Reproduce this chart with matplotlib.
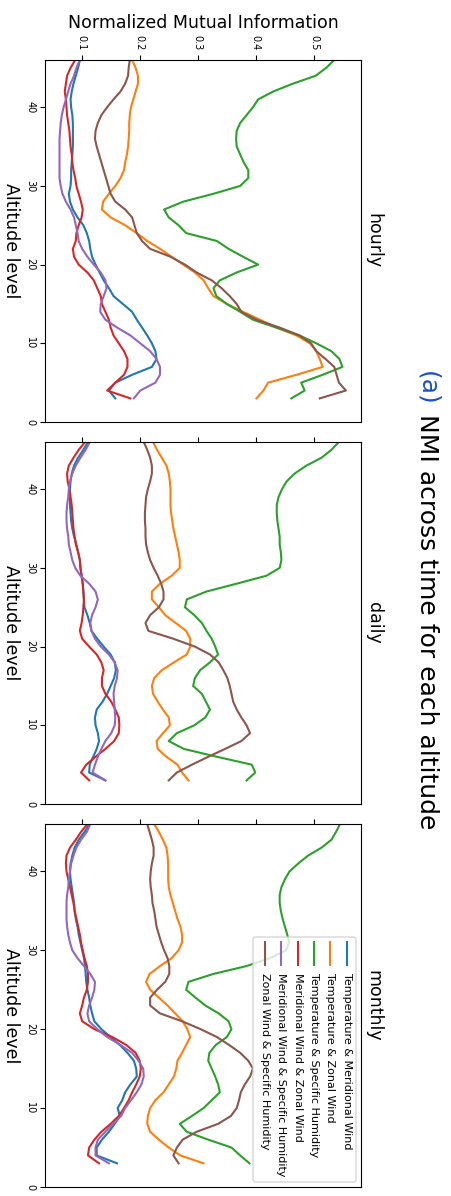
import matplotlib
matplotlib.use("Agg")
import matplotlib.pyplot as plt
from matplotlib.patches import FancyBboxPatch

# ---------------------------------------------------------------- data
altitude_levels = list(range(3, 47))

pair_labels = [
    "Temperature & Meridional Wind",
    "Temperature & Zonal Wind",
    "Temperature & Specific Humidity",
    "Meridional Wind & Zonal Wind",
    "Meridional Wind & Specific Humidity",
    "Zonal Wind & Specific Humidity",
]
pair_colors = ["#1f77b4", "#ff7f0e", "#2ca02c", "#d62728", "#9467bd", "#8c564b"]
panel_names = ["hourly", "daily", "monthly"]
nmi_ticks = [0.1, 0.2, 0.3, 0.4, 0.5]
altitude_ticks = [0, 10, 20, 30, 40]

# NMI per altitude level (levels 3 .. 46)
hourly_t_v = [0.158, 0.147, 0.158, 0.187, 0.221, 0.229, 0.227, 0.221, 0.213, 0.204,
              0.195, 0.187, 0.171, 0.155, 0.147, 0.138, 0.131, 0.124, 0.118, 0.115,
              0.113, 0.109, 0.103, 0.093, 0.085, 0.080, 0.078, 0.081, 0.082, 0.082,
              0.083, 0.084, 0.085, 0.085, 0.085, 0.085, 0.084, 0.082, 0.081, 0.083,
              0.086, 0.090, 0.094, 0.097]
hourly_t_u = [0.401, 0.413, 0.421, 0.470, 0.515, 0.510, 0.504, 0.493, 0.470, 0.435,
              0.407, 0.378, 0.350, 0.327, 0.318, 0.310, 0.295, 0.275, 0.255, 0.235,
              0.213, 0.195, 0.175, 0.150, 0.135, 0.137, 0.147, 0.158, 0.167, 0.173,
              0.175, 0.178, 0.180, 0.181, 0.182, 0.182, 0.183, 0.185, 0.189, 0.193,
              0.197, 0.197, 0.193, 0.187]
hourly_t_q = [0.461, 0.484, 0.478, 0.515, 0.549, 0.544, 0.530, 0.504, 0.475, 0.435,
              0.395, 0.373, 0.350, 0.332, 0.327, 0.338, 0.367, 0.404, 0.378, 0.353,
              0.333, 0.280, 0.267, 0.250, 0.242, 0.275, 0.327, 0.373, 0.387, 0.387,
              0.379, 0.373, 0.367, 0.366, 0.367, 0.373, 0.384, 0.395, 0.404, 0.430,
              0.464, 0.503, 0.521, 0.535]
hourly_v_u = [0.184, 0.144, 0.158, 0.173, 0.179, 0.179, 0.173, 0.164, 0.155, 0.150,
              0.147, 0.141, 0.135, 0.133, 0.127, 0.121, 0.110, 0.095, 0.087, 0.085,
              0.090, 0.091, 0.095, 0.100, 0.102, 0.099, 0.095, 0.091, 0.089, 0.086,
              0.084, 0.083, 0.081, 0.080, 0.079, 0.077, 0.075, 0.074, 0.073, 0.071,
              0.073, 0.075, 0.081, 0.089]
hourly_v_q = [0.190, 0.201, 0.227, 0.235, 0.235, 0.229, 0.218, 0.201, 0.184, 0.161,
              0.141, 0.132, 0.133, 0.138, 0.143, 0.141, 0.133, 0.121, 0.110, 0.101,
              0.095, 0.093, 0.090, 0.087, 0.081, 0.073, 0.067, 0.064, 0.062, 0.062,
              0.062, 0.062, 0.062, 0.062, 0.063, 0.064, 0.066, 0.069, 0.073, 0.077,
              0.081, 0.087, 0.091, 0.097]
hourly_u_q = [0.510, 0.555, 0.543, 0.539, 0.535, 0.520, 0.504, 0.495, 0.475, 0.441,
              0.401, 0.375, 0.367, 0.355, 0.341, 0.324, 0.298, 0.278, 0.253, 0.218,
              0.204, 0.195, 0.191, 0.187, 0.175, 0.158, 0.150, 0.146, 0.142, 0.138,
              0.134, 0.130, 0.126, 0.123, 0.124, 0.128, 0.134, 0.144, 0.155, 0.167,
              0.175, 0.180, 0.181, 0.183]

daily_t_v = [0.141, 0.113, 0.114, 0.120, 0.126, 0.130, 0.128, 0.124, 0.123, 0.126,
             0.136, 0.144, 0.150, 0.156, 0.159, 0.157, 0.150, 0.138, 0.127, 0.117,
             0.114, 0.110, 0.105, 0.104, 0.103, 0.102, 0.100, 0.098, 0.097, 0.094,
             0.091, 0.087, 0.084, 0.082, 0.081, 0.080, 0.080, 0.080, 0.081, 0.083,
             0.087, 0.094, 0.103, 0.111]
daily_t_u = [0.284, 0.273, 0.265, 0.246, 0.231, 0.229, 0.240, 0.252, 0.250, 0.240,
             0.231, 0.223, 0.221, 0.225, 0.238, 0.259, 0.281, 0.287, 0.287, 0.280,
             0.262, 0.244, 0.233, 0.221, 0.221, 0.235, 0.255, 0.269, 0.269, 0.267,
             0.264, 0.261, 0.258, 0.256, 0.254, 0.253, 0.253, 0.253, 0.252, 0.250,
             0.246, 0.238, 0.230, 0.223]
daily_t_q = [0.384, 0.399, 0.393, 0.333, 0.276, 0.250, 0.264, 0.294, 0.313, 0.321,
             0.314, 0.307, 0.292, 0.295, 0.304, 0.321, 0.335, 0.330, 0.324, 0.315,
             0.307, 0.294, 0.278, 0.281, 0.315, 0.367, 0.418, 0.441, 0.444, 0.443,
             0.441, 0.441, 0.439, 0.437, 0.436, 0.436, 0.439, 0.445, 0.453, 0.467,
             0.487, 0.513, 0.530, 0.543]
daily_v_u = [0.113, 0.099, 0.108, 0.124, 0.141, 0.156, 0.164, 0.165, 0.164, 0.158,
             0.151, 0.141, 0.135, 0.135, 0.138, 0.134, 0.126, 0.113, 0.101, 0.097,
             0.100, 0.102, 0.103, 0.104, 0.103, 0.102, 0.100, 0.098, 0.097, 0.094,
             0.090, 0.088, 0.086, 0.085, 0.084, 0.083, 0.081, 0.079, 0.076, 0.075,
             0.078, 0.086, 0.095, 0.106]
daily_v_q = [0.141, 0.119, 0.123, 0.128, 0.134, 0.141, 0.151, 0.157, 0.158, 0.157,
             0.156, 0.155, 0.157, 0.161, 0.162, 0.157, 0.147, 0.133, 0.123, 0.117,
             0.115, 0.118, 0.124, 0.128, 0.124, 0.113, 0.098, 0.089, 0.084, 0.081,
             0.078, 0.077, 0.075, 0.074, 0.074, 0.075, 0.077, 0.078, 0.080, 0.084,
             0.090, 0.098, 0.107, 0.114]
daily_u_q = [0.250, 0.264, 0.290, 0.318, 0.347, 0.375, 0.390, 0.384, 0.375, 0.367,
             0.361, 0.358, 0.355, 0.351, 0.344, 0.336, 0.321, 0.295, 0.258, 0.215,
             0.210, 0.218, 0.233, 0.241, 0.241, 0.237, 0.231, 0.224, 0.218, 0.214,
             0.211, 0.210, 0.210, 0.209, 0.209, 0.210, 0.211, 0.214, 0.218, 0.221,
             0.221, 0.218, 0.213, 0.207]

monthly_t_v = [0.161, 0.126, 0.126, 0.135, 0.147, 0.157, 0.166, 0.162, 0.170, 0.175,
               0.184, 0.195, 0.194, 0.190, 0.179, 0.166, 0.150, 0.134, 0.122, 0.118,
               0.115, 0.113, 0.110, 0.108, 0.107, 0.106, 0.104, 0.101, 0.098, 0.095,
               0.093, 0.090, 0.088, 0.087, 0.085, 0.083, 0.081, 0.080, 0.081, 0.084,
               0.088, 0.095, 0.105, 0.114]
monthly_t_u = [0.310, 0.270, 0.250, 0.233, 0.218, 0.213, 0.214, 0.218, 0.227, 0.241,
               0.250, 0.259, 0.263, 0.265, 0.273, 0.280, 0.287, 0.282, 0.274, 0.261,
               0.248, 0.233, 0.218, 0.211, 0.217, 0.235, 0.255, 0.267, 0.273, 0.273,
               0.270, 0.265, 0.261, 0.257, 0.253, 0.250, 0.249, 0.249, 0.249, 0.248,
               0.246, 0.240, 0.233, 0.225]
monthly_t_q = [0.389, 0.373, 0.358, 0.318, 0.281, 0.269, 0.290, 0.310, 0.324, 0.338,
               0.335, 0.330, 0.324, 0.318, 0.320, 0.331, 0.350, 0.358, 0.353, 0.336,
               0.313, 0.296, 0.280, 0.284, 0.327, 0.384, 0.424, 0.452, 0.457, 0.454,
               0.450, 0.446, 0.443, 0.441, 0.441, 0.444, 0.450, 0.458, 0.473, 0.490,
               0.513, 0.530, 0.538, 0.545]
monthly_v_u = [0.130, 0.111, 0.113, 0.122, 0.134, 0.150, 0.164, 0.173, 0.181, 0.187,
               0.194, 0.200, 0.202, 0.200, 0.193, 0.177, 0.153, 0.122, 0.101, 0.097,
               0.101, 0.104, 0.109, 0.111, 0.111, 0.109, 0.105, 0.102, 0.099, 0.097,
               0.094, 0.091, 0.088, 0.086, 0.083, 0.080, 0.077, 0.074, 0.073, 0.074,
               0.080, 0.090, 0.099, 0.110]
monthly_v_q = [0.147, 0.124, 0.124, 0.128, 0.141, 0.154, 0.168, 0.175, 0.185, 0.195,
               0.203, 0.207, 0.206, 0.198, 0.187, 0.167, 0.144, 0.127, 0.113, 0.110,
               0.113, 0.118, 0.122, 0.123, 0.115, 0.104, 0.093, 0.084, 0.080, 0.077,
               0.075, 0.074, 0.074, 0.074, 0.075, 0.077, 0.078, 0.080, 0.082, 0.086,
               0.091, 0.099, 0.109, 0.115]
monthly_u_q = [0.267, 0.258, 0.264, 0.274, 0.298, 0.335, 0.357, 0.367, 0.371, 0.374,
               0.381, 0.390, 0.395, 0.387, 0.373, 0.354, 0.333, 0.305, 0.273, 0.235,
               0.218, 0.218, 0.230, 0.244, 0.251, 0.251, 0.248, 0.242, 0.237, 0.233,
               0.229, 0.227, 0.225, 0.222, 0.221, 0.219, 0.218, 0.219, 0.221, 0.224,
               0.224, 0.221, 0.217, 0.213]

panel_series = [
    [hourly_t_v, hourly_t_u, hourly_t_q, hourly_v_u, hourly_v_q, hourly_u_q],
    [daily_t_v, daily_t_u, daily_t_q, daily_v_u, daily_v_q, daily_u_q],
    [monthly_t_v, monthly_t_u, monthly_t_q, monthly_v_u, monthly_v_q, monthly_u_q],
]

# ---------------------------------------------------------------- layout
W, H = 451, 1196
fig = plt.figure(figsize=(W / 100, H / 100), dpi=100)


def px_box(left, top, right, bottom):
    """Axes rectangle from pixel edges (origin at the top-left corner)."""
    return [left / W, 1 - bottom / H, (right - left) / W, (bottom - top) / H]


panel_boxes = [px_box(45, 60, 361, 422), px_box(45, 442, 361, 804), px_box(45, 824, 361, 1187)]

axes = []
for i, (name, series, box) in enumerate(zip(panel_names, panel_series, panel_boxes)):
    ax = fig.add_axes(box)
    for vals, color in zip(series, pair_colors):
        ax.plot(vals, altitude_levels, color=color, lw=1.5)
    ax.set_xlim(0.037, 0.581)
    ax.set_ylim(0, 46)
    ax.xaxis.tick_top()
    ax.set_xticks(nmi_ticks)
    ax.set_yticks(altitude_ticks)
    ax.tick_params(axis="x", labelsize=7, labelrotation=-90, labeltop=(i == 0))
    ax.tick_params(axis="y", labelsize=7, labelrotation=-90)
    for lab in ax.get_yticklabels():
        lab.set_va("center")
    ax.set_ylabel("Altitude level", rotation=-90, va="top", fontsize=12.5, labelpad=4)
    if i == 0:
        ax.xaxis.set_label_position("top")
        ax.set_xlabel("Normalized Mutual Information", fontsize=12.5, labelpad=5)
    ax.text(1.012, 0.5, name, transform=ax.transAxes, rotation=-90,
            ha="left", va="center", fontsize=12.5)
    axes.append(ax)

# ---------------------------------------------------------------- legend (vertical, in the last panel)
lax = axes[2]
ax_left, ax_top, ax_w, ax_h = 45, 824, 316, 363


def ax_x(px):
    return (px - ax_left) / ax_w


def ax_y(py):
    return (ax_top + ax_h - py) / ax_h


frame = FancyBboxPatch((ax_x(253), ax_y(1182)), ax_x(356) - ax_x(253), ax_y(937) - ax_y(1182),
                       boxstyle="round,pad=0,rounding_size=0.008", transform=lax.transAxes,
                       facecolor="white", edgecolor="0.8", alpha=0.8, lw=1.0, zorder=5)
lax.add_patch(frame)
for k, (label, color) in enumerate(zip(pair_labels, pair_colors)):
    x = ax_x(346.7 - 16.35 * k)
    lax.plot([x, x], [ax_y(942), ax_y(965)], transform=lax.transAxes,
             color=color, lw=1.5, zorder=6, clip_on=False)
    lax.text(x, ax_y(973), label, transform=lax.transAxes, rotation=-90,
             ha="center", va="top", fontsize=8, zorder=6)

# ---------------------------------------------------------------- title
renderer = fig.canvas.get_renderer()
title_kw = dict(rotation=-90, rotation_mode="anchor", ha="left", va="baseline", fontsize=18)
probe_full = fig.text(0, 0, "(a) NMI", **title_kw)
probe_tail = fig.text(0, 0, "NMI", **title_kw)
shift = (probe_full.get_window_extent(renderer).height
         - probe_tail.get_window_extent(renderer).height)
probe_full.remove()
probe_tail.remove()

title_x = 420 / W
title_y = 1 - 371 / H
fig.text(title_x, title_y, "(a)", color="#1a4fcc", **title_kw)
fig.text(title_x, title_y - shift / fig.bbox.height,
         "NMI across time for each altitude", color="black", **title_kw)

fig.savefig("out.png", dpi=100)
